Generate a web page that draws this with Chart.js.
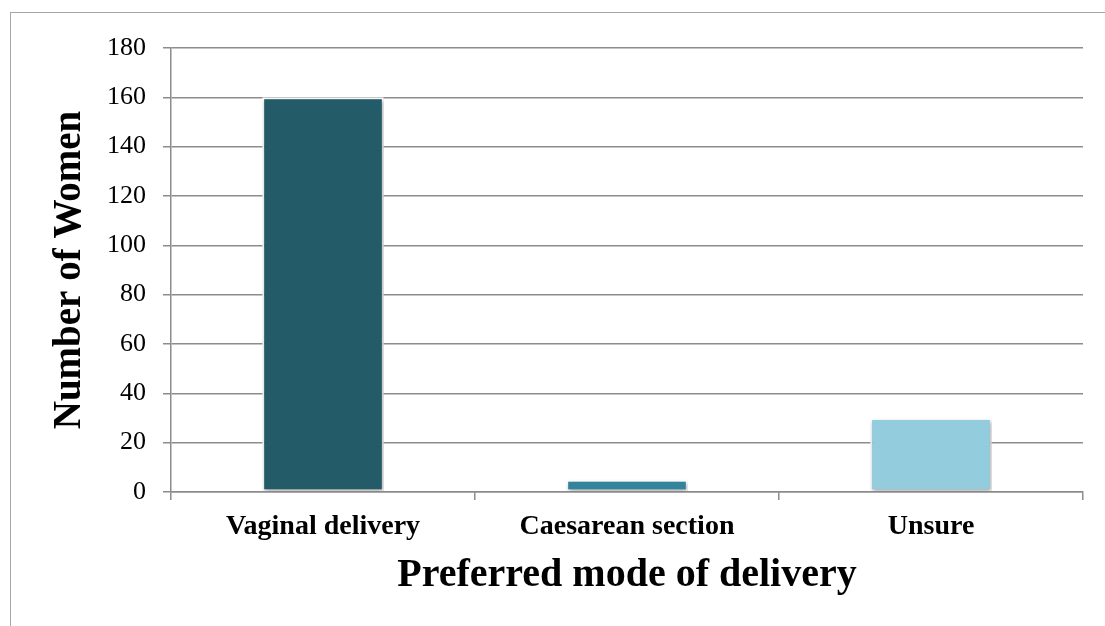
<!DOCTYPE html>
<html>
<head>
<meta charset="utf-8">
<script src="https://cdn.jsdelivr.net/npm/chart.js@4"></script>
<style>
    body { margin: 0; background: #fff; }
    #frame {
        position: absolute; left: 10px; top: 12px; width: 1200px; height: 700px;
        border-left: 1.5px solid #a6a6a6; border-top: 1.5px solid #a6a6a6;
    }
    #wrap { position: absolute; left: 0; top: 0; width: 1105px; height: 626px; }
</style>
</head>
<body>
<div id="frame"></div>
<div id="wrap"><canvas id="deliveryChart"></canvas></div>
<script>
const categories = ['Vaginal delivery', 'Caesarean section', 'Unsure'];
const womenCounts = [160, 5, 30];
const barColors = ['#235B68', '#31849B', '#93CDDD'];
const yTicks = [0, 20, 40, 60, 80, 100, 120, 140, 160, 180];

const serif = "'Liberation Serif', 'DejaVu Serif', serif";

// soft shadow under the bars like the original
const barShadow = {
    id: 'barShadow',
    beforeDatasetDraw(chart) {
        const ctx = chart.ctx;
        ctx.save();
        ctx.shadowColor = 'rgba(0,0,0,0.35)';
        ctx.shadowBlur = 4;
        ctx.shadowOffsetX = 1;
        ctx.shadowOffsetY = 2;
    },
    afterDatasetDraw(chart) {
        chart.ctx.restore();
    }
};

document.addEventListener('DOMContentLoaded', function () {
    const ctx = document.getElementById('deliveryChart');
    new Chart(ctx, {
        type: 'bar',
        data: {
            labels: categories,
            datasets: [{
                data: womenCounts,
                backgroundColor: barColors,
                borderColor: '#ffffff',
                borderWidth: 2,
                borderSkipped: false,
                barPercentage: 0.4,
                categoryPercentage: 1
            }]
        },
        plugins: [barShadow],
        options: {
            responsive: true,
            maintainAspectRatio: false,
            animation: false,
            layout: { padding: { top: 48, right: 22, left: 0, bottom: 0 } },
            plugins: {
                legend: { display: false },
                tooltip: { enabled: false }
            },
            scales: {
                y: {
                    min: 0,
                    max: 180,
                    afterBuildTicks(scale) {
                        scale.ticks = yTicks.map(v => ({ value: v }));
                    },
                    afterFit(scale) { scale.width = 171; },
                    grid: { color: '#8c8c8c', lineWidth: 1.5, tickLength: 8 },
                    border: { color: '#8c8c8c', width: 1.5 },
                    ticks: {
                        color: '#000',
                        padding: 17,
                        font: { family: serif, size: 26 }
                    },
                    title: {
                        display: true,
                        text: 'Number of Women',
                        color: '#000',
                        padding: { top: 47, bottom: 0 },
                        font: { family: serif, size: 39, weight: 'bold' }
                    }
                },
                x: {
                    afterFit(scale) { scale.height = 134; },
                    grid: {
                        offset: true,
                        drawOnChartArea: false,
                        color: '#8c8c8c',
                        lineWidth: 1.5,
                        tickLength: 8
                    },
                    border: { color: '#8c8c8c', width: 1.5 },
                    ticks: {
                        color: '#000',
                        padding: 10,
                        font: { family: serif, size: 28, weight: 'bold' }
                    },
                    title: {
                        display: true,
                        text: 'Preferred mode of delivery',
                        color: '#000',
                        padding: { top: 0, bottom: 26 },
                        font: { family: serif, size: 40, weight: 'bold' }
                    }
                }
            }
        }
    });
});
</script>
</body>
</html>
